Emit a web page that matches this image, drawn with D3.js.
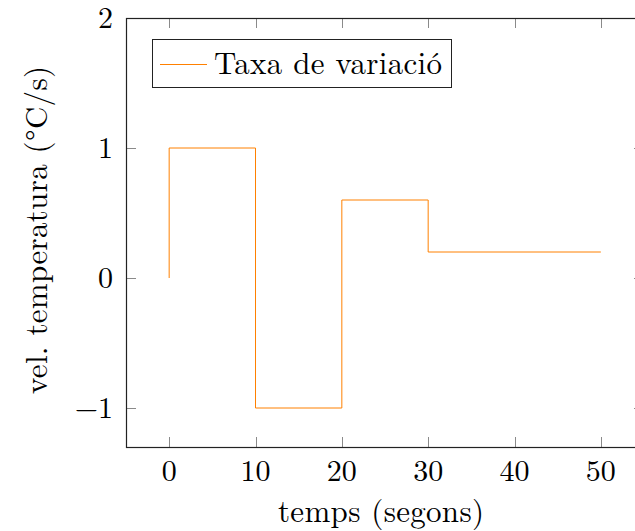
<!DOCTYPE html>
<html>
<head>
<meta charset="utf-8">
<script src="https://cdn.jsdelivr.net/npm/d3@7"></script>
<style>
  html, body { margin: 0; padding: 0; background: #fff; }
  svg { display: block; }
  text { font-family: "Latin Modern Roman", "CMU Serif", "Liberation Serif", serif; fill: #000; }
</style>
</head>
<body>
<svg id="chart" width="635" height="531"></svg>
<script>
// Step profile of the temperature rate: value held from each time to the next
const times = [0, 10, 20, 30, 50];
const rates = [1, -1, 0.6, 0.2, 0.2];
const xTicks = [0, 10, 20, 30, 40, 50];
const yTicks = [-1, 0, 1, 2];
const seriesName = "Taxa de variació";
const xLabel = "temps (segons)";
const yLabel = "vel. temperatura (°C/s)";

const W = 635, H = 531;
const m = { left: 126, right: 644, top: 18, bottom: 447 };

const svg = d3.select("#chart");
const x = d3.scaleLinear().domain([-5, 55]).range([m.left, m.right]);
const y = d3.scaleLinear().domain([-1.3, 2]).range([m.bottom, m.top]);

// Build the constant (jump) path: starts at 0, then left-constant steps
const pts = [[times[0], 0]];
for (let i = 0; i < times.length - 1; i++) {
  pts.push([times[i], rates[i]]);
  pts.push([times[i + 1], rates[i]]);
}
const line = d3.line().x(d => x(d[0])).y(d => y(d[1]));

const tickLen = 10;
const tickColor = "#8a8a8a";

// ticks, pointing inward on all four sides
const tg = svg.append("g").attr("stroke", tickColor).attr("stroke-width", 1);
xTicks.forEach(t => {
  const px = Math.round(x(t)) + 0.5;
  tg.append("line").attr("x1", px).attr("x2", px).attr("y1", m.bottom).attr("y2", m.bottom - tickLen);
  tg.append("line").attr("x1", px).attr("x2", px).attr("y1", m.top).attr("y2", m.top + tickLen);
});
yTicks.forEach(t => {
  const py = Math.round(y(t)) + 0.5;
  tg.append("line").attr("x1", m.left).attr("x2", m.left + tickLen).attr("y1", py).attr("y2", py);
  tg.append("line").attr("x1", m.right).attr("x2", m.right - tickLen).attr("y1", py).attr("y2", py);
});

// data line
svg.append("path")
  .datum(pts)
  .attr("d", line)
  .attr("fill", "none")
  .attr("stroke", "#ff8000")
  .attr("stroke-width", 1);

// frame
svg.append("rect")
  .attr("x", m.left + 0.5).attr("y", m.top + 0.5)
  .attr("width", m.right - m.left).attr("height", m.bottom - m.top)
  .attr("fill", "none").attr("stroke", "#222").attr("stroke-width", 1.2);

const fs = 30, tfs = 31;
// tick labels
svg.append("g").selectAll("text").data(xTicks).join("text")
  .attr("x", d => x(d)).attr("y", 481)
  .attr("text-anchor", "middle").attr("font-size", fs)
  .text(d => d);
svg.append("g").selectAll("text").data(yTicks).join("text")
  .attr("x", 113).attr("y", d => y(d) + 10)
  .attr("text-anchor", "end").attr("font-size", fs)
  .text(d => d < 0 ? "\u2212" + Math.abs(d) : d);

// axis titles
svg.append("text")
  .attr("x", 381).attr("y", 522)
  .attr("text-anchor", "middle").attr("font-size", tfs)
  .attr("textLength", 206).attr("lengthAdjust", "spacing")
  .text(xLabel);
svg.append("text")
  .attr("transform", `translate(47, 230) rotate(-90)`)
  .attr("text-anchor", "middle").attr("font-size", tfs)
  .attr("textLength", 328).attr("lengthAdjust", "spacing")
  .text(yLabel);

// legend
const lg = svg.append("g");
lg.append("rect")
  .attr("x", 152.5).attr("y", 39.5).attr("width", 299).attr("height", 48)
  .attr("fill", "#fff").attr("stroke", "#222").attr("stroke-width", 1);
lg.append("line")
  .attr("x1", 160).attr("x2", 207).attr("y1", 64.5).attr("y2", 64.5)
  .attr("stroke", "#ff8000").attr("stroke-width", 1);
lg.append("text")
  .attr("x", 214).attr("y", 74).attr("font-size", tfs)
  .attr("textLength", 228).attr("lengthAdjust", "spacing")
  .text(seriesName);
</script>
</body>
</html>
